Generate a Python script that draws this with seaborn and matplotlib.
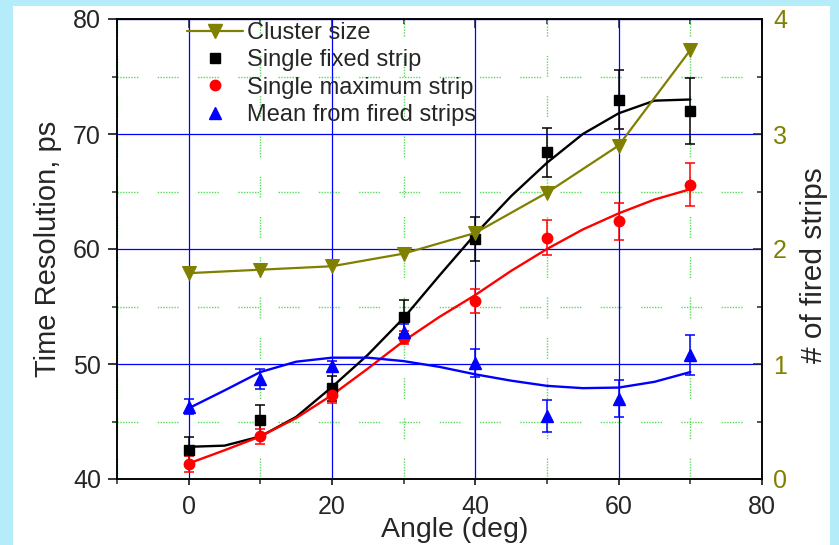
import numpy as np
import pandas as pd
import matplotlib
matplotlib.use("Agg")
import matplotlib.pyplot as plt
import seaborn as sns
from matplotlib.ticker import MultipleLocator
from matplotlib.lines import Line2D
from matplotlib.patches import Rectangle

# Measured values
angle = [0, 10, 20, 30, 40, 50, 60, 70]
fixed_strip = [42.5, 45.1, 47.9, 54.1, 60.9, 68.4, 73.0, 72.0]
fixed_err = [1.15, 1.3, 1.1, 1.5, 1.9, 2.1, 2.6, 2.9]
max_strip = [41.3, 43.7, 47.3, 52.3, 55.5, 61.0, 62.4, 65.6]
max_err = [0.7, 0.65, 0.7, 0.6, 1.05, 1.55, 1.6, 1.9]
mean_fired = [46.3, 48.7, 49.8, 52.8, 50.1, 45.5, 47.0, 50.8]
mean_err = [0.65, 0.85, 0.5, 0.7, 1.2, 1.4, 1.65, 1.75]
cluster_size = [1.79, 1.82, 1.85, 1.96, 2.14, 2.49, 2.90, 3.73]

# Smooth trend curves, sampled every 5 degrees
fit_angle = [0, 5, 10, 15, 20, 25, 30, 35, 40, 45, 50, 55, 60, 65, 70]
fixed_fit = [42.8, 42.9, 43.7, 45.4, 48.0, 50.8, 54.0, 57.7, 61.3, 64.6,
             67.5, 70.0, 71.8, 72.9, 73.0]
max_fit = [41.35, 42.5, 43.7, 45.3, 47.3, 49.6, 52.0, 54.1, 56.0, 58.1,
           60.0, 61.7, 63.1, 64.3, 65.2]
mean_fit = [46.15, 47.7, 49.3, 50.2, 50.55, 50.55, 50.25, 49.75, 49.1, 48.55,
            48.1, 47.9, 47.95, 48.45, 49.3]

legend_labels = ["Cluster size", "Single fixed strip",
                 "Single maximum strip", "Mean from fired strips"]

OLIVE = "#808000"
BLUE = "#0000ff"
RED = "#ff0000"
GRID_GREEN = "#55dd55"

sns.set_style("ticks")
plt.rcParams["font.family"] = ["Liberation Sans", "DejaVu Sans"]
plt.rcParams["lines.scale_dashes"] = False

df = pd.DataFrame({"angle": angle, "cluster": cluster_size})
fits = pd.DataFrame({"angle": fit_angle, "fixed": fixed_fit,
                     "maximum": max_fit, "mean": mean_fit})

fig = plt.figure(figsize=(8.39, 5.45), dpi=100)
fig.patch.set_facecolor("#b4ecf9")
fig.patches.append(Rectangle((13 / 839, 0), (830 - 13) / 839, (545 - 6) / 545,
                             transform=fig.transFigure, facecolor="white",
                             edgecolor="none", zorder=-10))

ax = fig.add_axes([117 / 839, 1 - 479 / 545, (762 - 117) / 839, (479 - 19) / 545])
ax.set_facecolor("white")

# Trend curves
for col, colour in (("fixed", "black"), ("maximum", RED), ("mean", BLUE)):
    sns.lineplot(data=fits, x="angle", y=col, ax=ax, color=colour, lw=1.7,
                 sort=False)

eb_kw = dict(capsize=3.3, elinewidth=1.1, capthick=1.1, linestyle="none")
ax.errorbar(angle, fixed_strip, yerr=fixed_err, fmt="s", color="black", ms=6.5, **eb_kw)
ax.errorbar(angle, max_strip, yerr=max_err, fmt="o", color=RED, ms=7.5, **eb_kw)
ax.errorbar(angle, mean_fired, yerr=mean_err, fmt="^", color=BLUE, ms=9, **eb_kw)

ax.set_xlim(-10, 80)
ax.set_ylim(40, 80)
ax.xaxis.set_major_locator(MultipleLocator(20))
ax.xaxis.set_minor_locator(MultipleLocator(10))
ax.yaxis.set_major_locator(MultipleLocator(10))
ax.yaxis.set_minor_locator(MultipleLocator(5))

# Blue solid major grid, light green dotted-dash minor grid
dotted_dash = (0, tuple([1, 1] * 7 + [1, 14]))
ax.set_axisbelow(True)
ax.grid(which="major", color=BLUE, lw=0.9)
ax.grid(which="minor", color=GRID_GREEN, lw=1.0, linestyle=dotted_dash)

ax.set_xlabel("Angle (deg)", fontsize=20.5)
ax.xaxis.set_label_coords((455 - 117) / 645, -(517 - 479) / 460)
ax.set_ylabel("Time Resolution, ps", fontsize=21, labelpad=8)

ax.tick_params(axis="both", which="major", labelsize=18, width=1.1, color="black")
ax.tick_params(axis="y", which="major", direction="out", length=6.5, pad=5)
ax.tick_params(axis="y", which="minor", direction="out", length=3.5, width=1.1)
ax.tick_params(axis="x", which="major", direction="out", length=4.5, pad=7,
               top=False)
ax.tick_params(axis="x", which="minor", direction="out", length=3.5, width=1.1,
               top=False)
for spine in ax.spines.values():
    spine.set_linewidth(1.1)
    spine.set_color("black")
    spine.set_visible(True)

# Inward ticks along the top edge
top = ax.secondary_xaxis("top")
top.xaxis.set_major_locator(MultipleLocator(20))
top.xaxis.set_minor_locator(MultipleLocator(10))
top.tick_params(which="major", direction="in", length=6.5, width=1.1, labeltop=False)
top.tick_params(which="minor", direction="in", length=3.5, width=1.1)

# Cluster size on the right-hand axis
ax2 = ax.twinx()
sns.lineplot(data=df, x="angle", y="cluster", ax=ax2, color=OLIVE, lw=1.6,
             marker="v", markersize=9.5, markeredgecolor=OLIVE)
ax2.set_ylim(0, 4)
ax2.yaxis.set_major_locator(MultipleLocator(1))
ax2.yaxis.set_minor_locator(MultipleLocator(0.5))
ax2.tick_params(axis="y", which="major", direction="in", length=6.5, width=1.1,
                labelsize=18, labelcolor=OLIVE, pad=8)
ax2.tick_params(axis="y", which="minor", direction="in", length=3.5, width=1.1)
ax2.set_ylabel("# of fired strips", fontsize=21.5)
ax2.yaxis.set_label_coords((800 - 117) / 645, (479 - 265) / 460)
ax2.set_xlabel("")
for spine in ax2.spines.values():
    spine.set_linewidth(1.1)
    spine.set_color("black")

handles = [
    Line2D([], [], color=OLIVE, lw=1.6, marker="v", ms=9.5),
    Line2D([], [], color="black", ls="none", marker="s", ms=6.5),
    Line2D([], [], color=RED, ls="none", marker="o", ms=7.5),
    Line2D([], [], color=BLUE, ls="none", marker="^", ms=9),
]
ax2.legend(handles, legend_labels, loc="upper left",
           bbox_to_anchor=(0.108, 0.993), frameon=False, fontsize=17,
           borderpad=0.0, borderaxespad=0.0, handlelength=2.4,
           handletextpad=0.15, labelspacing=0.22)

fig.savefig("out.png", dpi=100, facecolor=fig.get_facecolor())
